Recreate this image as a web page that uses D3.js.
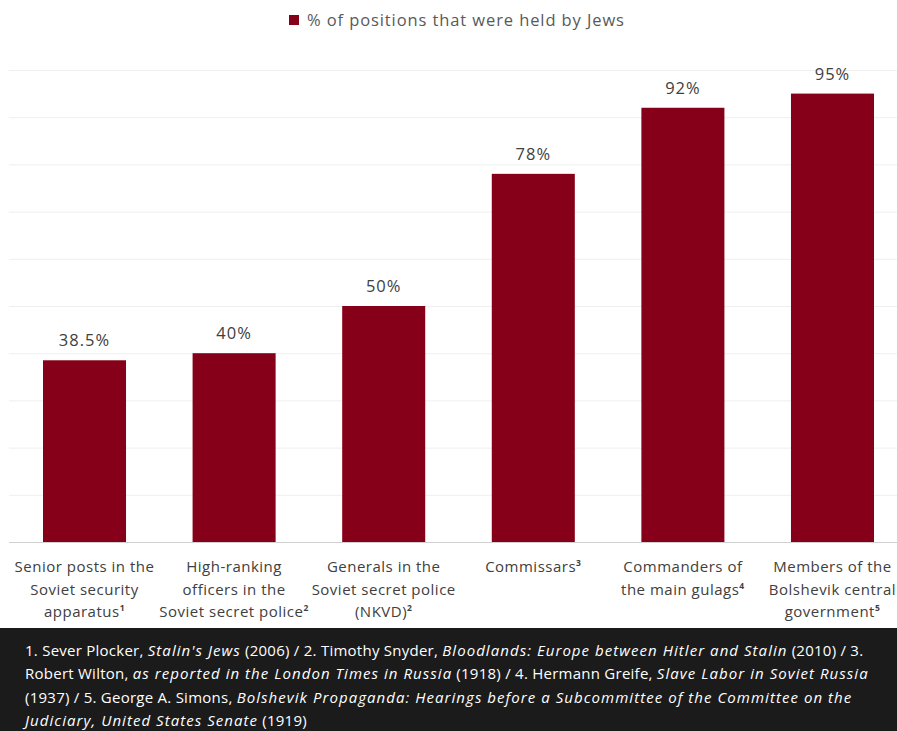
<!DOCTYPE html>
<html>
<head>
<meta charset="utf-8">
<script src="https://cdn.jsdelivr.net/npm/d3@7"></script>
<style>
  body { margin: 0; background: #fff; }
  svg { display: block; font-family: "Open Sans", Lato, sans-serif; }
</style>
</head>
<body>
<svg width="897" height="731"></svg>
<script>
// data
let categories = [
  ["Senior posts in the", "Soviet security", "apparatus|1"],
  ["High-ranking", "officers in the", "Soviet secret police|2"],
  ["Generals in the", "Soviet secret police", "(NKVD)|2"],
  ["Commissars|3"],
  ["Commanders of", "the main gulags|4"],
  ["Members of the", "Bolshevik central", "government|5"]
];
let values = [38.5, 40, 50, 78, 92, 95];
let valueLabels = ["38.5%", "40%", "50%", "78%", "92%", "95%"];
let seriesName = "% of positions that were held by Jews";
let yTicks = [0, 10, 20, 30, 40, 50, 60, 70, 80, 90, 100];

// footnote lines, italic parts marked with *
let notes = [
  "1. Sever Plocker, *Stalin's Jews* (2006) / 2. Timothy Snyder, *Bloodlands: Europe between Hitler and Stalin* (2010) / 3.",
  "Robert Wilton, *as reported in the London Times in Russia* (1918) / 4. Hermann Greife, *Slave Labor in Soviet Russia*",
  "(1937) / 5. George A. Simons, *Bolshevik Propaganda: Hearings before a Subcommittee of the Committee on the*",
  "*Judiciary, United States Senate* (1919)"
];

let svg = d3.select("svg");
let barColor = "#850018";

let y = d3.scaleLinear().domain([0, 100]).range([542, 70]);
let x = d3.scaleBand()
  .domain(d3.range(values.length))
  .range([43, 874])
  .paddingInner(0.445)
  .paddingOuter(0);

// gridlines
svg.append("g").selectAll("line")
  .data(yTicks.slice(1))
  .join("line")
  .attr("x1", 9).attr("x2", 897)
  .attr("y1", d => y(d) + 0.5).attr("y2", d => y(d) + 0.5)
  .attr("stroke", "#efefef");

// bars
svg.append("g").selectAll("rect")
  .data(values)
  .join("rect")
  .attr("x", (d, i) => x(i))
  .attr("width", x.bandwidth())
  .attr("y", d => y(d))
  .attr("height", d => y(0) - y(d))
  .attr("fill", barColor);

// baseline
svg.append("line")
  .attr("x1", 9).attr("x2", 897)
  .attr("y1", y(0) + 0.5).attr("y2", y(0) + 0.5)
  .attr("stroke", "#d0d0d0");

// value labels
svg.append("g").selectAll("text")
  .data(values)
  .join("text")
  .attr("x", (d, i) => x(i) + x.bandwidth() / 2)
  .attr("y", d => y(d) - 14)
  .attr("text-anchor", "middle")
  .attr("font-size", 16.5)
  .attr("letter-spacing", 1)
  .attr("fill", "#404040")
  .text((d, i) => valueLabels[i]);

// category labels
let cat = svg.append("g").selectAll("text")
  .data(categories)
  .join("text")
  .attr("x", (d, i) => x(i) + x.bandwidth() / 2)
  .attr("y", 572)
  .attr("text-anchor", "middle")
  .attr("font-size", 15)
  .attr("letter-spacing", 0.5)
  .attr("fill", "#404040");

cat.each(function(lines) {
  let t = d3.select(this);
  let cx = t.attr("x");
  lines.forEach((ln, j) => {
    let parts = ln.split("|");
    t.append("tspan").attr("x", cx).attr("dy", j == 0 ? 0 : 22.5).text(parts[0]);
    if (parts[1]) {
      t.append("tspan").attr("font-size", 8.5).attr("font-weight", "bold").attr("dy", -6).text(parts[1]);
      t.append("tspan").attr("font-size", 15).attr("dy", 6).text("");
    }
  });
});

// legend
let legend = svg.append("g");
legend.append("rect")
  .attr("x", 289).attr("y", 15).attr("width", 10).attr("height", 10)
  .attr("fill", barColor);
legend.append("text")
  .attr("x", 307).attr("y", 26)
  .attr("font-size", 16.5)
  .attr("letter-spacing", 0.9)
  .attr("fill", "#595959")
  .text(seriesName);

// footnote box
svg.append("rect")
  .attr("x", 0).attr("y", 628).attr("width", 897).attr("height", 103)
  .attr("fill", "#1b1b1b");

svg.append("g").selectAll("text")
  .data(notes)
  .join("text")
  .attr("x", 25)
  .attr("y", (d, i) => 656 + i * 23.3)
  .attr("font-size", 15)
  .attr("fill", "#ffffff")
  .each(function(d) {
    let t = d3.select(this);
    d.split("*").forEach((seg, k) => {
      if (seg.length) {
        t.append("tspan")
          .attr("font-style", k % 2 ? "italic" : "normal")
          .attr("letter-spacing", k % 2 ? 1.05 : 0.25)
          .text(seg);
      }
    });
  });
</script>
</body>
</html>
